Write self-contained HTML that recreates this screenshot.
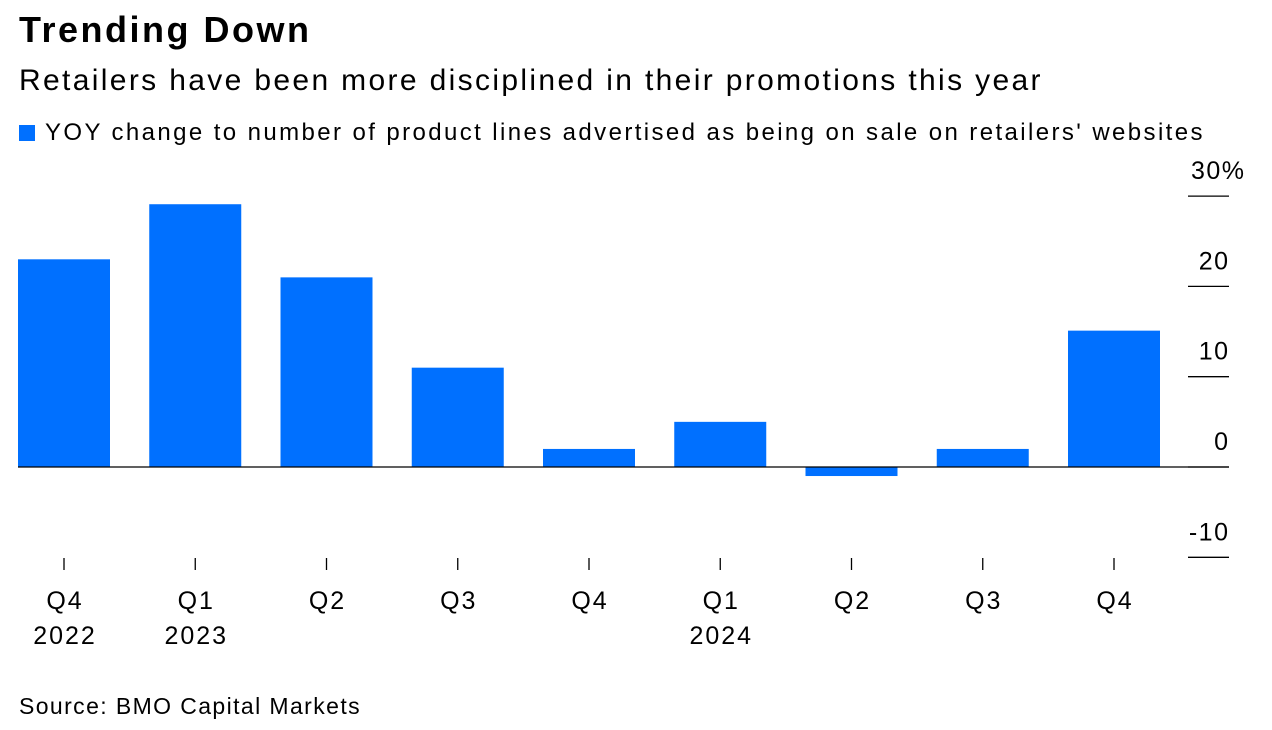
<!DOCTYPE html>
<html><head><meta charset="utf-8"><style>
body{margin:0;width:1272px;height:730px;background:#fff;font-family:"Liberation Sans",sans-serif;overflow:hidden;position:relative}
.t{position:absolute;left:19px;top:9px;font-size:36px;font-weight:bold;color:#000;letter-spacing:2.5px}
.s{position:absolute;left:19px;top:64px;font-size:30px;color:#000;letter-spacing:2.35px;white-space:nowrap}
.l{position:absolute;left:19px;top:119px;font-size:24px;color:#000;letter-spacing:2.4px;white-space:nowrap}
.l i{display:inline-block;width:16px;height:16px;background:#0070ff;margin-right:10px;vertical-align:-1px}
.src{position:absolute;left:19px;top:693px;font-size:23px;color:#000;letter-spacing:1.4px}
</style></head><body>
<div class="t">Trending Down</div>
<div class="s">Retailers have been more disciplined in their promotions this year</div>
<div class="l"><i></i>YOY change to number of product lines advertised as being on sale on retailers' websites</div>
<svg id="c" width="1272" height="730" style="position:absolute;left:0;top:0"></svg>
<div class="src">Source: BMO Capital Markets</div>
<script>
const categories=["Q4","Q1","Q2","Q3","Q4","Q1","Q2","Q3","Q4"];
const years=["2022","2023","","","","2024","","",""];
const values=[23,29.1,21,11,2,5,-1,2,15.1];
const yTicks=[30,20,10,0,-10];
const yTickLabels=["30%","20","10","0","-10"];
const svg=document.getElementById('c');
const NS="http://www.w3.org/2000/svg";
const y=v=>467-v*9.03;
const x=i=>64+i*131.25;
const bw=92;
function mk(t,a){const e=document.createElementNS(NS,t);for(const k in a)e.setAttribute(k,a[k]);svg.appendChild(e);return e;}
yTicks.forEach((v,i)=>{
 const ln=mk('line',{x1:1188,x2:1229,y1:y(v),y2:y(v),stroke:'#000','stroke-width':1.3});
 
 
 const t=i===0?mk('text',{x:1191,y:y(v)-17,'font-size':25,fill:'#000','letter-spacing':1.5}):mk('text',{x:1229.5,y:y(v)-17,'text-anchor':'end','font-size':25,fill:'#000','letter-spacing':1.5});
 t.textContent=yTickLabels[i];
 
 
});
values.forEach((v,i)=>{
 const r=mk('rect',{x:x(i)-bw/2,y:Math.min(y(v),y(0)),width:bw,height:Math.abs(y(v)-y(0)),fill:'#0070ff'});
 
 
 const tk=mk('line',{x1:x(i),x2:x(i),y1:558,y2:570,stroke:'#000','stroke-width':1.3});
 
 
 const t=mk('text',{x:x(i)+1,y:609,'text-anchor':'middle','font-size':25,fill:'#000','letter-spacing':2});
 t.textContent=categories[i];
 
 
 if(years[i]){const t2=mk('text',{x:x(i)+1,y:644,'text-anchor':'middle','font-size':25,fill:'#000','letter-spacing':2});
 t2.textContent=years[i];
 
 }
});
const z=mk('line',{x1:18,x2:1229,y1:y(0),y2:y(0),stroke:'#000','stroke-width':1.3});


</script>
</body></html>
